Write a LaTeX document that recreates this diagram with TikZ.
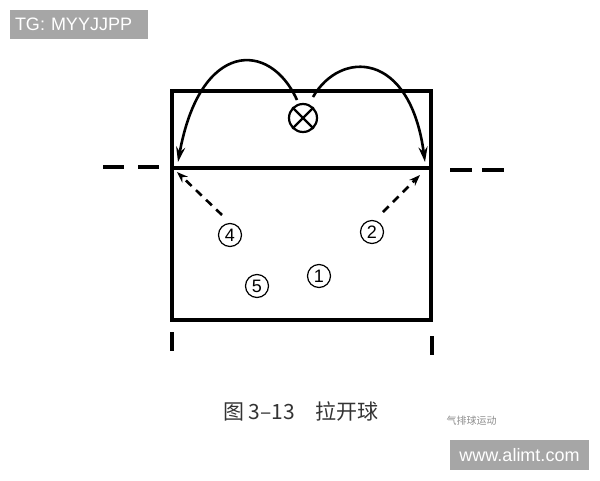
\documentclass[tikz,border=0pt]{standalone}
\usepackage{fontspec}
\setmainfont{Liberation Sans}
\newfontfamily\cjk{Noto Sans CJK SC}
\usetikzlibrary{arrows.meta,positioning}

\begin{document}
\begin{tikzpicture}[x=1pt,y=-1pt,
    court/.style={line width=4pt},
    pass/.style={line width=2.6pt,-{Stealth[length=15pt,width=9pt]}},
    run/.style={line width=2.6pt,dash pattern=on 8pt off 6pt,-{Stealth[length=11pt,width=8pt]}},
    player/.style={circle,draw,line width=1.2pt,minimum size=23pt,inner sep=0pt,font=\fontsize{18}{18}\selectfont},
    tag/.style={fill=black!35,text=white,inner sep=0pt,font=\fontsize{18}{18}\selectfont}]
  \useasboundingbox (0,0) rectangle (600,480);

  % court
  \coordinate (TL) at (172,91);
  \coordinate (TR) at (431,91);
  \coordinate (BL) at (172,320);
  \coordinate (BR) at (431,320);
  \coordinate (NL) at (172,168);
  \coordinate (NR) at (431,168);
  \draw[court] (TL) -- (TR) -- (BR) -- (BL) -- cycle;
  \draw[court] (NL) -- (NR);

  % net ends and side marks
  \draw[line width=3.5pt,dash pattern=on 21pt off 14pt] (103,167) -- (160,167);
  \draw[line width=3.5pt,dash pattern=on 22pt off 10pt] (450,170) -- (504,170);
  \draw[line width=3.5pt] (172,332) -- (172,351);
  \draw[line width=3.5pt] (432,336) -- (432,355);

  % ball
  \node (ball) [circle,draw,line width=2.2pt,minimum size=28pt,inner sep=0pt] at (303,118) {};
  \draw[line width=2.2pt] (ball.45) -- (ball.225);
  \draw[line width=2.2pt] (ball.135) -- (ball.315);

  % players
  \begin{scope}[every node/.style={player}]
    \node (p4) at (230,235) {4};
    \node (p2) at (372,232) {2};
    \node (p1) at (319,276) {1};
    \node (p5) at (257,286) {5};
  \end{scope}

  % pass arcs and runs
  \coordinate (ls) at (297,100);
  \coordinate (rs) at (313,97);
  \coordinate (le) at (178,162);
  \coordinate (re) at (425,162);
  \coordinate (lr) at (177,172);
  \coordinate (rr) at (420,175);
  \draw[pass] (ls) .. controls (270,40) and (200,40) .. (le);
  \draw[pass] (rs) .. controls (340,50) and (410,50) .. (re);
  \draw[run] (p4) ++(-8,-20) -- (lr);
  \draw[run] (p2) ++(11,-20) -- (rr);

  % caption and marks
  \node (cap) [font=\cjk\fontsize{21}{21}\selectfont,text=black!80] at (301,411) {图 3–13\quad 拉开球};
  \node (wx) [font=\cjk\fontsize{10}{10}\selectfont,text=black!45,anchor=west] at (443,421) {气排球运动};
  \node (tg) [tag,minimum width=138pt,minimum height=29pt,text width=128pt] at (79,24.5) {TG: MYYJJPP};
  \node (site) [tag,minimum width=139pt,minimum height=30pt] at (519.5,455) {www.alimt.com};
\end{tikzpicture}
\end{document}
